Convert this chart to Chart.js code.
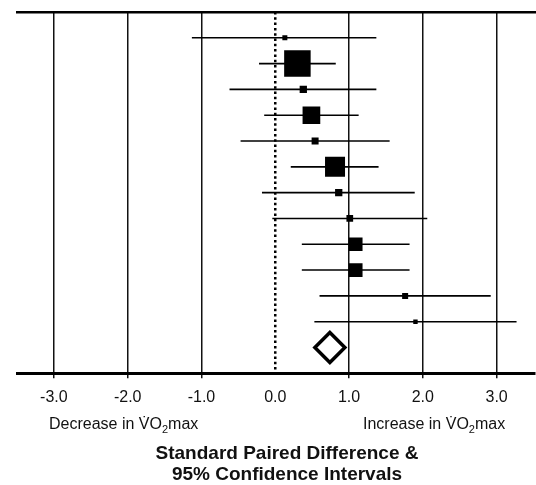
<!DOCTYPE html>
<html>
<head>
<meta charset="utf-8">
<script src="https://cdn.jsdelivr.net/npm/chart.js@4"></script>
<style>
  html, body { margin: 0; padding: 0; background: #fff; }
  #wrap { position: relative; width: 536px; height: 485px; font-family: "Liberation Sans", Arial, sans-serif; color: #111; }
  #wrap canvas { position: absolute; left: 0; top: 0; }
  .lab { position: absolute; font-size: 16px; line-height: 16px; white-space: nowrap; }
  .lab sub { font-size: 11px; line-height: 0; vertical-align: -4px; }
  #title { position: absolute; left: 137px; width: 300px; top: 443px; text-align: center; font-weight: bold; font-size: 19px; line-height: 20.7px; white-space: nowrap; }
</style>
</head>
<body>
<div id="wrap">
  <canvas id="c" width="536" height="485"></canvas>
  <div class="lab" style="left:49px; top:415.5px;">Decrease in V̇O<sub>2</sub>max</div>
  <div class="lab" style="left:363px; top:415.5px;">Increase in V̇O<sub>2</sub>max</div>
  <div id="title">Standard Paired Difference &amp;<br>95% Confidence Intervals</div>
</div>
<script>
// ---- data ----
const rows      = [1, 2, 3, 4, 5, 6, 7, 8, 9, 10, 11, 12];
const estimates = [0.13, 0.30, 0.38, 0.49, 0.54, 0.81, 0.86, 1.01, 1.09, 1.09, 1.76, 1.90];
const lower     = [-1.13, -0.22, -0.62, -0.15, -0.47, 0.21, -0.18, -0.04, 0.36, 0.36, 0.60, 0.53];
const upper     = [1.37, 0.82, 1.37, 1.13, 1.55, 1.40, 1.89, 2.06, 1.82, 1.82, 2.92, 3.27];
const weights   = [5, 26.5, 7.3, 17.7, 7, 20, 7.3, 6.7, 13.7, 13.7, 6, 4.4]; // marker side
const pooledRow = 13;
const pooled    = 0.74;
const xTicks    = [-3, -2, -1, 0, 1, 2, 3];

const datasets = [];
// confidence interval lines
rows.forEach((r, i) => {
  datasets.push({
    type: 'line',
    data: [{x: lower[i], y: r}, {x: upper[i], y: r}],
    borderColor: '#000', borderWidth: 1.6, pointRadius: 0, order: 2
  });
});
// point estimates (squares)
datasets.push({
  type: 'scatter',
  data: rows.map((r, i) => ({x: estimates[i], y: r})),
  pointStyle: 'rect',
  pointRadius: weights.map(w => w / Math.SQRT2),
  pointHoverRadius: weights.map(w => w / Math.SQRT2),
  backgroundColor: '#000', borderWidth: 0, order: 0
});
// pooled diamond
datasets.push({
  type: 'scatter',
  data: [{x: pooled, y: pooledRow}],
  pointStyle: 'rectRot', pointRadius: 15, pointHoverRadius: 15,
  backgroundColor: '#fff', borderColor: '#000', borderWidth: 3.5, order: 0
});
// dotted line of no effect
datasets.push({
  type: 'line',
  data: [{x: 0, y: 0}, {x: 0, y: 14}],
  borderColor: '#000', borderWidth: 2.5, borderDash: [2.5, 2.8],
  pointRadius: 0, order: 3
});

new Chart(document.getElementById('c'), {
  data: { datasets },
  options: {
    responsive: false,
    animation: false,
    events: [],
    layout: { autoPadding: false, padding: { left: 17, right: 1, top: 12, bottom: 67.5 } },
    plugins: { legend: { display: false }, tooltip: { enabled: false } },
    scales: {
      x: {
        type: 'linear', position: 'bottom', min: -3.5, max: 3.52,
        afterBuildTicks: s => { s.ticks = xTicks.map(v => ({value: v})); },
        ticks: {
          callback: v => v.toFixed(1),
          color: '#111', padding: 10, maxRotation: 0,
          font: { family: '"Liberation Sans", Arial, sans-serif', size: 16 }
        },
        grid: {
          color: c => (c.tick && c.tick.value === 0) ? 'rgba(0,0,0,0)' : '#111',
          tickColor: c => (c.tick && c.tick.value === 0) ? 'rgba(0,0,0,0)' : '#111',
          lineWidth: 1.5, tickLength: 5, drawTicks: true
        },
        border: { display: true, color: '#000', width: 3 }
      },
      xTop: {
        type: 'linear', position: 'top', min: -3.5, max: 3.52,
        ticks: { display: false },
        grid: { display: false, drawTicks: false },
        border: { display: true, color: '#000', width: 2.5 }
      },
      y: {
        type: 'linear', reverse: true, min: 0, max: 14, display: false
      }
    }
  }
});
</script>
</body>
</html>
